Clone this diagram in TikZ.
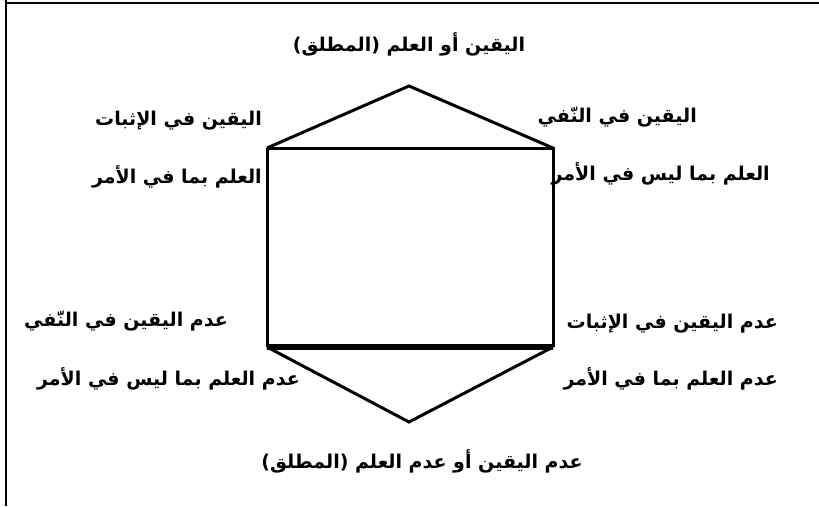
\documentclass[tikz,border=0pt]{standalone}
\usepackage{fontspec}
\newfontfamily\arabicfont[Script=Arabic]{DejaVu Sans}
\TeXXeTstate=1
\newcommand{\ar}[1]{\arabicfont\bfseries\beginR #1\endR}
\begin{document}
\begin{tikzpicture}[x=1pt,y=-1pt,
  lbl/.style={inner sep=0pt,font=\fontsize{19}{22}\selectfont},
  edge/.style={line width=3pt,line join=miter}]
\useasboundingbox (0,0) rectangle (819,506);
% frame
\draw[line width=2pt] (5.5,0) -- (5.5,506);
\draw[line width=1.6pt] (4.5,3) -- (819,3);
% shape points
\coordinate (tl) at (267,148);
\coordinate (tr) at (553,148);
\coordinate (bl) at (267,347);
\coordinate (br) at (553,347);
\coordinate (ta) at (409,86);
\coordinate (ba) at (409,422);
\draw[edge] (tl) -- (ta) -- (tr);
\draw[edge] (bl) -- (ba) -- (br);
\draw[edge] (tl) -- (tr) -- (br);
\draw[edge] (tl) -- (bl);
\draw[line width=5.5pt] (bl) -- (br);
% labels
\node[lbl] (top) at (409,44) {\ar{اليقين أو العلم (المطلق)}};
\node[lbl,anchor=east] (tl1) at (262,121) {\ar{اليقين في الإثبات}};
\node[lbl,anchor=east] (tl2) at (262,177) {\ar{العلم بما في الأمر}};
\node[lbl,anchor=east] (tr1) at (697,117) {\ar{اليقين في النّفي}};
\node[lbl,anchor=east] (tr2) at (770,174) {\ar{العلم بما ليس في الأمر}};
\node[lbl,anchor=east] (bl1) at (228,321) {\ar{عدم اليقين في النّفي}};
\node[lbl,anchor=east] (bl2) at (300,379) {\ar{عدم العلم بما ليس في الأمر}};
\node[lbl,anchor=east] (br1) at (778,324) {\ar{عدم اليقين في الإثبات}};
\node[lbl,anchor=east] (br2) at (778,379) {\ar{عدم العلم بما في الأمر}};
\node[lbl] (bot) at (422,461) {\ar{عدم اليقين أو عدم العلم (المطلق)}};
\end{tikzpicture}
\end{document}
